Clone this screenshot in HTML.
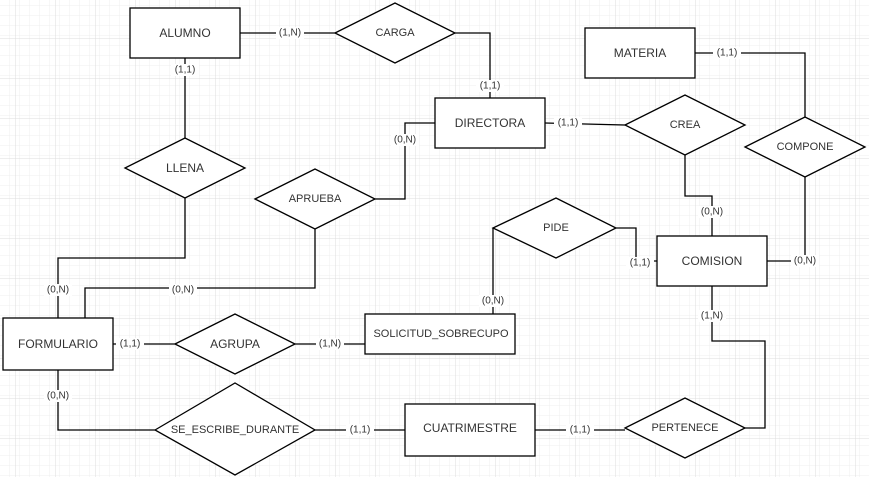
<!DOCTYPE html>
<html><head><meta charset="utf-8"><style>
html,body{margin:0;padding:0;background:#fff}
svg{display:block}
text{font-family:"Liberation Sans",Arial,sans-serif;fill:#333}
</style></head><body>
<svg width="869" height="477" viewBox="0 0 869 477" xmlns="http://www.w3.org/2000/svg">
<defs>
<pattern id="minor" width="10" height="10" patternUnits="userSpaceOnUse" x="5" y="8">
<path d="M10 0V10M0 10H10" fill="none" stroke="#efefef" stroke-width="1"/>
</pattern>
<pattern id="major" width="40" height="40" patternUnits="userSpaceOnUse" x="15" y="38">
<rect width="40" height="40" fill="url(#minor)"/>
<path d="M0 0V40M0 0H40" fill="none" stroke="#dedede" stroke-width="1"/>
</pattern>
</defs>
<rect width="869" height="477" fill="#fff"/>
<rect width="869" height="477" fill="url(#major)"/>
<g fill="none" stroke="#000" stroke-width="1.3">
<path d="M240 33H335"/>
<path d="M455 33H490V98"/>
<path d="M545 123L625 125"/>
<path d="M685 154V196H712V236"/>
<path d="M695 53H805V117"/>
<path d="M805 177V261H767"/>
<path d="M616 228H636V261H657"/>
<path d="M493 228V314"/>
<path d="M113 344H175"/>
<path d="M295 344H365"/>
<path d="M185 58V138"/>
<path d="M185 198V258H58V318"/>
<path d="M375 199H405V123H435"/>
<path d="M315 229V288H85V318"/>
<path d="M58 370V430H155"/>
<path d="M315 430H405"/>
<path d="M535 430H625"/>
<path d="M745 428H765V341H712V286"/>
</g>
<g fill="#fff" stroke="#000" stroke-width="1.3">
<rect x="130" y="8" width="110" height="50"/>
<rect x="435" y="98" width="110" height="50"/>
<rect x="585" y="28" width="110" height="50"/>
<rect x="657" y="236" width="110" height="50"/>
<rect x="3" y="318" width="110" height="52"/>
<rect x="365" y="314" width="150" height="40"/>
<rect x="405" y="404" width="130" height="52"/>
<polygon points="335,33 395,3 455,33 395,63"/>
<polygon points="625,125 685,95 745,125 685,155"/>
<polygon points="745,147 805,117 865,147 805,177"/>
<polygon points="493,228 556,198 616,228 556,258"/>
<polygon points="125,168 185,138 245,168 185,198"/>
<polygon points="255,199 315,169 375,199 315,229"/>
<polygon points="175,344 235,314 295,344 235,374"/>
<polygon points="155,430 235,383 315,430 235,475"/>
<polygon points="625,428 685,398 745,428 685,458"/>
</g>
<g font-size="12" text-anchor="middle" dominant-baseline="central">
<text x="185" y="33">ALUMNO</text>
<text x="490" y="123">DIRECTORA</text>
<text x="640" y="53">MATERIA</text>
<text x="712" y="261">COMISION</text>
<text x="58" y="344">FORMULARIO</text>
<text x="441" y="334" font-size="11">SOLICITUD_SOBRECUPO</text>
<text x="470" y="428">CUATRIMESTRE</text>
<text x="395" y="33" font-size="11">CARGA</text>
<text x="685" y="125" font-size="11">CREA</text>
<text x="805" y="147" font-size="11">COMPONE</text>
<text x="556" y="228" font-size="11">PIDE</text>
<text x="185" y="168">LLENA</text>
<text x="315" y="199" font-size="11">APRUEBA</text>
<text x="235" y="344">AGRUPA</text>
<text x="235" y="430" font-size="11">SE_ESCRIBE_DURANTE</text>
<text x="685" y="428" font-size="11">PERTENECE</text>
</g>
<g font-size="10" text-anchor="middle" dominant-baseline="central">
<g fill="#fff">
<rect x="276" y="27" width="28" height="12"/>
<rect x="476" y="80" width="28" height="12"/>
<rect x="554" y="117" width="28" height="12"/>
<rect x="698" y="206" width="28" height="12"/>
<rect x="713" y="47" width="28" height="12"/>
<rect x="791" y="255" width="28" height="12"/>
<rect x="626" y="257" width="28" height="12"/>
<rect x="479" y="295" width="28" height="12"/>
<rect x="116" y="338" width="28" height="12"/>
<rect x="316" y="338" width="28" height="12"/>
<rect x="171" y="64" width="28" height="12"/>
<rect x="44" y="284" width="28" height="12"/>
<rect x="391" y="134" width="28" height="12"/>
<rect x="169" y="284" width="28" height="12"/>
<rect x="44" y="390" width="28" height="12"/>
<rect x="346" y="424" width="28" height="12"/>
<rect x="566" y="424" width="28" height="12"/>
<rect x="698" y="310" width="28" height="12"/>
</g>
<text x="290" y="33">(1,N)</text>
<text x="490" y="86">(1,1)</text>
<text x="568" y="123">(1,1)</text>
<text x="712" y="212">(0,N)</text>
<text x="727" y="53">(1,1)</text>
<text x="805" y="261">(0,N)</text>
<text x="640" y="263">(1,1)</text>
<text x="493" y="301">(0,N)</text>
<text x="130" y="344">(1,1)</text>
<text x="330" y="344">(1,N)</text>
<text x="185" y="70">(1,1)</text>
<text x="58" y="290">(0,N)</text>
<text x="405" y="140">(0,N)</text>
<text x="183" y="290">(0,N)</text>
<text x="58" y="396">(0,N)</text>
<text x="360" y="430">(1,1)</text>
<text x="580" y="430">(1,1)</text>
<text x="712" y="316">(1,N)</text>
</g>
</svg>
</body></html>
